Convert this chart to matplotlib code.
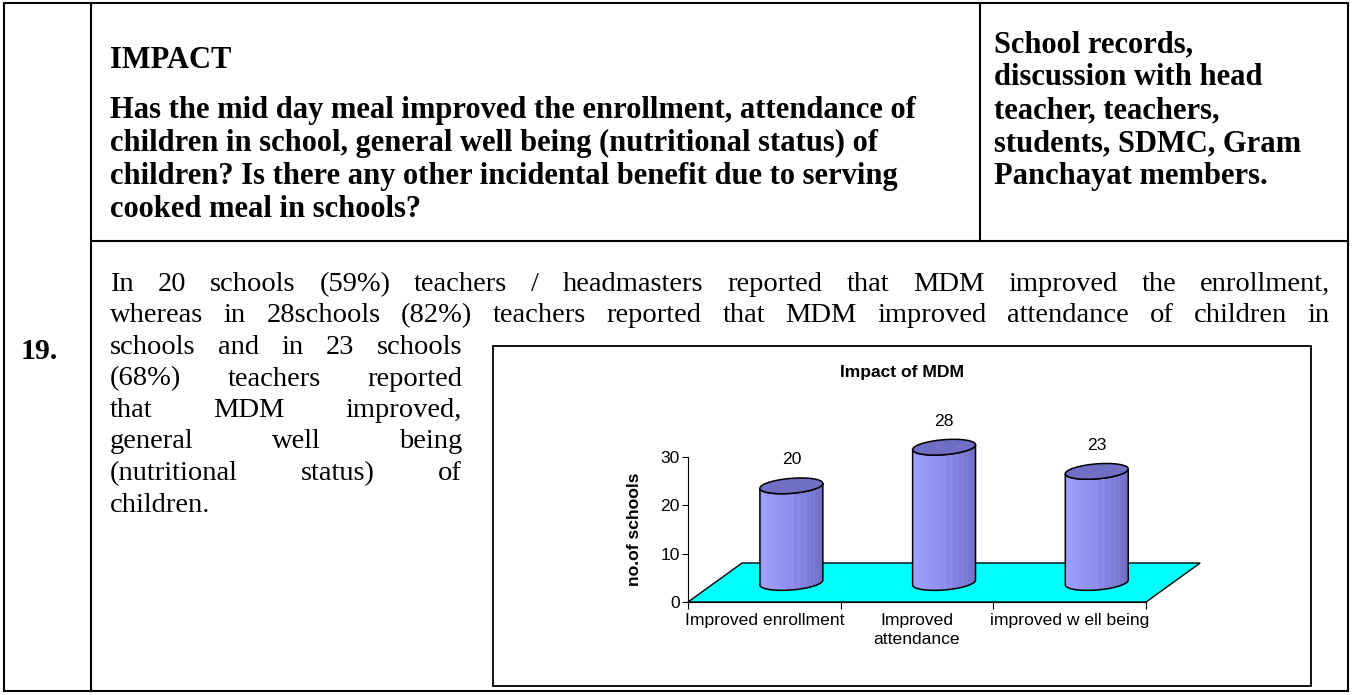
import numpy as np
import matplotlib.pyplot as plt
from matplotlib.patches import Polygon, Rectangle
from matplotlib.colors import to_rgb

# chart data
categories = ["Improved enrollment", "Improved\nattendance", "improved w ell being"]
schools = [20, 28, 23]
y_ticks = [0, 10, 20, 30]
chart_title = "Impact of MDM"
y_title = "no.of schools"

# document text
item_no = "19."
head_title = "IMPACT"
question = ["Has the mid day meal improved the enrollment, attendance of",
            "children in school, general well being (nutritional status) of",
            "children? Is there any other incidental benefit due to serving",
            "cooked meal in schools?"]
sources = ["School records,", "discussion with head", "teacher, teachers,",
           "students, SDMC, Gram", "Panchayat members."]
body_full = ["In 20 schools (59%) teachers / headmasters reported that MDM improved the enrollment,",
             "whereas in 28schools (82%) teachers reported that MDM improved attendance of children in"]
body_wrap = ["schools and in 23 schools", "(68%) teachers reported", "that MDM improved,",
             "general well being", "(nutritional status) of"]
body_last = "children."

W, H = 1352, 695
fig = plt.figure(figsize=(W / 100, H / 100), dpi=100)
page = fig.add_axes([0, 0, 1, 1])
page.set_xlim(0, W)
page.set_ylim(H, 0)
page.axis("off")
renderer = fig.canvas.get_renderer()

serif = "Liberation Serif"
sans = "Liberation Sans"
head_size = 22
doc_size = 20.5
lw_tab = 1.5
lead_h = 33     # header line spacing (px)
lead = 31.5     # body line spacing (px)

# table borders
page.add_patch(Rectangle((4, 3), 1344, 688, fill=False, ec="black", lw=lw_tab))
page.plot([91, 91], [3, 691], color="black", lw=lw_tab)
page.plot([980, 980], [3, 241], color="black", lw=lw_tab)
page.plot([91, 1348], [241, 241], color="black", lw=lw_tab)


def justify(line, x0, x1, y, **kw):
    """place words of one line so they fill x0..x1"""
    words = line.split()
    texts = [page.text(0, y, w, ha="left", va="baseline", **kw) for w in words]
    widths = [t.get_window_extent(renderer).width for t in texts]
    gap = (x1 - x0 - sum(widths)) / (len(words) - 1)
    x = x0
    for t, w in zip(texts, widths):
        t.set_x(x)
        x += w + gap


tx = 110
has_y = 118
hd = dict(family=serif, weight="bold", fontsize=head_size, va="baseline")
page.text(tx, has_y - 1.5 * lead_h, head_title, **hd)
for i, line in enumerate(question):
    page.text(tx, has_y + lead_h * i, line, **hd)
for i, line in enumerate(sources):
    page.text(994, has_y + lead_h * (i - 2), line, **hd)

base = 291
page.text(21, base + 2 * lead + 5, item_no, family=serif, weight="bold", fontsize=21.5, va="baseline")
for i, line in enumerate(body_full):
    justify(line, tx, 1330, base + lead * i, family=serif, fontsize=doc_size)
for i, line in enumerate(body_wrap):
    justify(line, tx, 462, base + lead * (i + 2), family=serif, fontsize=doc_size)
page.text(tx, base + lead * 7, body_last, family=serif, fontsize=doc_size, va="baseline")

# chart frame and title
page.add_patch(Rectangle((493, 346), 818, 340, fill=False, ec="black", lw=1.3))
page.text(902, 373, chart_title, family=sans, weight="bold", fontsize=12.6, ha="center", va="center")

# chart axes (pixel box 688..1200 x 400..602)
ax = fig.add_axes([688 / W, (H - 602) / H, 512 / W, 202 / H])
ax.patch.set_alpha(0)
for s in ["top", "right"]:
    ax.spines[s].set_visible(False)
ax.spines["left"].set_bounds(0, 30)
ax.spines["bottom"].set_bounds(-0.5, 2.5)
ax.set_yticks(y_ticks)
ax.set_yticklabels([str(t) for t in y_ticks], family=sans, fontsize=12.6)
ax.tick_params(axis="y", length=4, pad=2)
ax.set_xticks([-0.5, 0.5, 1.5, 2.5])
ax.set_xticklabels([])
ax.tick_params(axis="x", length=5)
ax.set_xticks(range(len(categories)), minor=True)
ax.set_xticklabels(categories, minor=True, family=sans, fontsize=12.6, linespacing=1.3)
ax.tick_params(axis="x", which="minor", length=0, pad=8)
ax.set_ylabel(y_title, family=sans, weight="bold", fontsize=12.6)
ax.yaxis.set_label_coords(-0.09, 0.36)

# floor
DX, DY = 0.354, 8.07
ax.add_patch(Polygon([(-0.5, 0), (2.5, 0), (2.5 + DX, DY), (-0.5 + DX, DY)],
                     closed=True, fc="#00FFFF", ec="black", lw=1.0, zorder=1, clip_on=False))

# cylinders
a, b, sh = 0.206, 1.55, 0.5
stops = [0, 0.45, 0.7, 1.0]
cols = np.array([to_rgb(c) for c in ["#A0A0FF", "#9090F0", "#8080DC", "#7070C6"]])
fx = np.linspace(0, 1, 120)
grad = np.stack([np.interp(fx, stops, cols[:, k]) for k in range(3)], axis=-1)
for p in [0.52, 0.62, 0.72, 0.8, 0.87]:
    j = int(p * 119)
    grad[j] = np.clip(grad[j] + 0.08, 0, 1)
grad = grad[np.newaxis, :, :]

t_front = np.linspace(np.pi, 2 * np.pi, 60)
t_full = np.linspace(0, 2 * np.pi, 120)
for i, v in enumerate(schools):
    cx = i + DX / 2
    y0 = DY / 2
    y1 = y0 + v
    bottom = [(cx + a * np.cos(t), y0 + b * np.sin(t) + sh * np.cos(t)) for t in t_front]
    topf = [(cx + a * np.cos(t), y1 + b * np.sin(t) + sh * np.cos(t)) for t in t_front[::-1]]
    body = Polygon(bottom + topf, closed=True, fc="none", ec="none", zorder=2)
    ax.add_patch(body)
    im = ax.imshow(grad, extent=[cx - a, cx + a, y0 - b - sh, y1 + b + sh],
                   aspect="auto", zorder=2, interpolation="bilinear")
    im.set_clip_path(body)
    ax.add_patch(Polygon(bottom + topf, closed=True, fill=False, ec="black", lw=1.1, zorder=3))
    top = [(cx + a * np.cos(t), y1 + b * np.sin(t) + sh * np.cos(t)) for t in t_full]
    ax.add_patch(Polygon(top, closed=True, fc="#6F6FC6", ec="black", lw=1.1, zorder=4))
    ax.annotate(str(v), (cx, y1), xytext=(0, 26), textcoords="offset pixels",
                ha="center", va="center", family=sans, fontsize=12.6)

ax.set_xlim(-0.5, 2.853)
ax.set_ylim(0, 41.8)

fig.savefig("out.png", dpi=100)
